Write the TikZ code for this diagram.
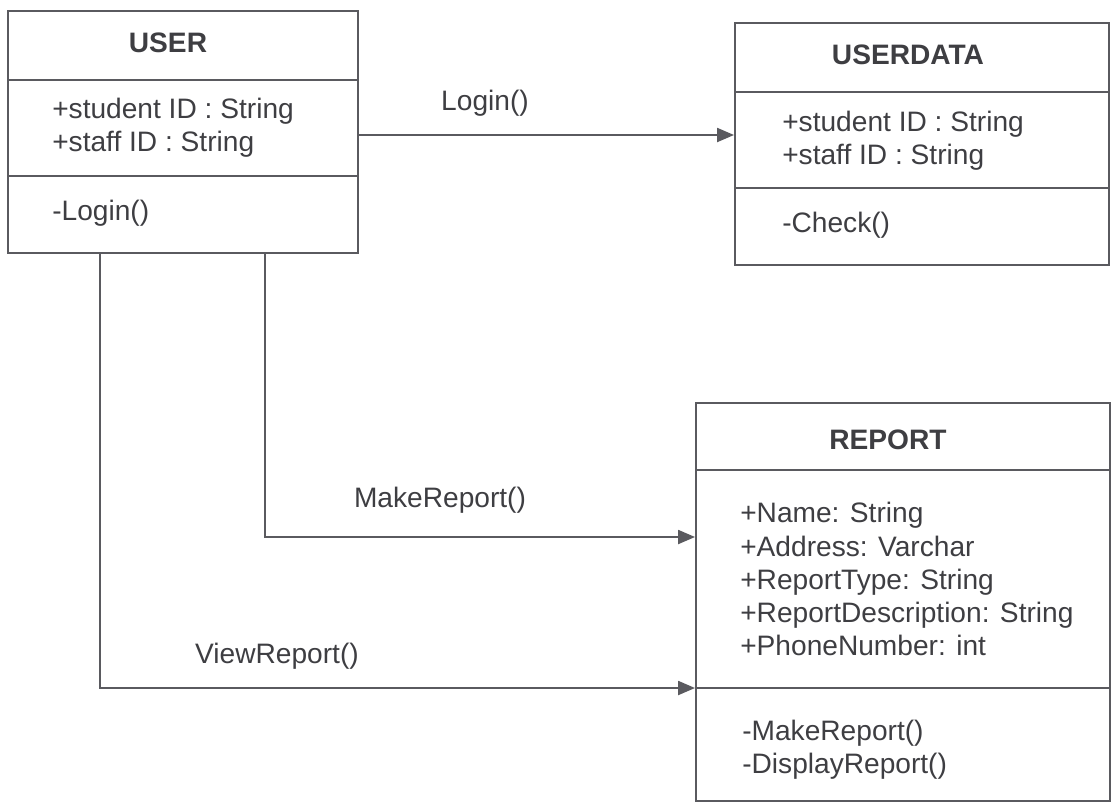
\documentclass[tikz,border=0pt]{standalone}
\usepackage{fontspec}
\setmainfont{Liberation Sans}
\usetikzlibrary{arrows.meta}

\definecolor{inkgray}{RGB}{62,62,66}
\definecolor{linegray}{RGB}{90,90,95}

\tikzset{
  classbox/.style={draw=linegray, line width=1.2pt, anchor=north west, inner sep=0pt},
  divider/.style={draw=linegray, line width=1.2pt},
  title/.style={font=\fontsize{20}{24}\selectfont\bfseries, text=inkgray},
  member/.style={anchor=west, align=left, font=\fontsize{20}{23.5}\selectfont, text=inkgray, inner sep=0pt},
  msg/.style={font=\fontsize{20}{24}\selectfont, text=inkgray},
  call/.style={draw=linegray, line width=1.2pt, -{Triangle[length=12pt,width=10pt]}}
}

\begin{document}
\begin{tikzpicture}[x=0.025cm, y=-0.025cm]
% Page size of the picture
\useasboundingbox (0,0) rectangle (1116,805);

% USER class
\node[classbox, minimum width=8.75cm, minimum height=6.05cm] (user) at (7,10) {};
\draw[divider] (7,80) -- (357,80);
\draw[divider] (7,176) -- (357,176);
\node[title] (usertitle) at (168,43) {USER};
\node[member] (userattr) at (52,128) {+student ID : String\\+staff ID : String};
\node[member] (userop) at (52,213) {-Login()};

% USERDATA class
\node[classbox, minimum width=9.35cm, minimum height=6.05cm] (userdata) at (734,22) {};
\draw[divider] (734,92) -- (1108,92);
\draw[divider] (734,188) -- (1108,188);
\node[title] (datatitle) at (908,55) {USERDATA};
\node[member] (dataattr) at (782,141) {+student ID : String\\+staff ID : String};
\node[member] (dataop) at (782,225) {-Check()};

% REPORT class
\node[classbox, minimum width=10.35cm, minimum height=9.95cm] (report) at (695,402) {};
\draw[divider] (695,470) -- (1109,470);
\draw[divider] (695,688) -- (1109,688);
\node[title] (reporttitle) at (888,440) {REPORT};
\node[member] (reportattr) at (740,579) {+Name: String\\+Address: Varchar\\+ReportType: String\\+ReportDescription: String\\+PhoneNumber: int};
\node[member] (reportop) at (742,750) {-MakeReport()\\-DisplayReport()};

% Messages between the classes
\coordinate (loginrow) at (0,135);
\coordinate (makefoot) at (265,252);
\coordinate (makerow) at (0,537);
\coordinate (viewfoot) at (100,252);
\coordinate (viewrow) at (0,688);

\draw[call] (user.east |- loginrow) -- (userdata.west |- loginrow);
\node[msg] (loginlabel) at (485,103) {Login()};

\draw[call] (makefoot) |- (report.west |- makerow);
\node[msg] (makelabel) at (440,500) {MakeReport()};

\draw[call] (viewfoot) |- (report.west |- viewrow);
\node[msg] (viewlabel) at (277,656) {ViewReport()};
\end{tikzpicture}
\end{document}
